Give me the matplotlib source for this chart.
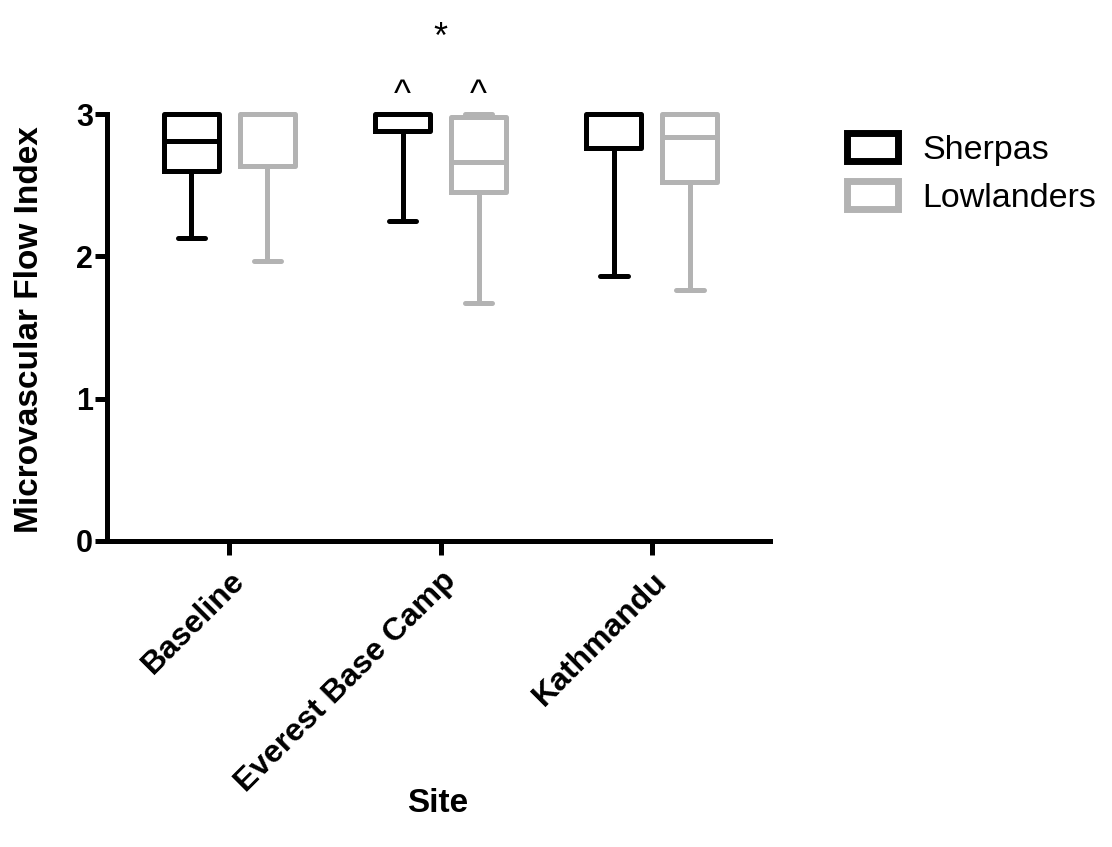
import matplotlib
matplotlib.use("Agg")
import matplotlib.pyplot as plt
from matplotlib.patches import Patch
import numpy as np

plt.rcParams['font.family'] = ['Liberation Sans', 'DejaVu Sans']

# box summaries (q1, median, q3, whisker low/high)
sites = ["Baseline", "Everest Base Camp", "Kathmandu"]
sherpa_q1 = [2.60, 2.88, 2.76]
sherpa_med = [2.81, 3.00, 3.00]
sherpa_q3 = [3.00, 3.00, 3.00]
sherpa_lo = [2.13, 2.25, 1.86]
sherpa_hi = [3.00, 3.00, 3.00]
low_q1 = [2.635, 2.45, 2.52]
low_med = [3.00, 2.66, 2.84]
low_q3 = [3.00, 2.98, 3.00]
low_lo = [1.97, 1.67, 1.76]
low_hi = [3.00, 3.00, 3.00]
groups = ["Sherpas", "Lowlanders"]
colors = ["black", "#b3b3b3"]


def make_stats(q1, med, q3, lo, hi):
    out = []
    for i in range(len(q1)):
        out.append(dict(q1=q1[i], med=med[i], q3=q3[i], whislo=lo[i], whishi=hi[i], fliers=[]))
    return out


fig = plt.figure(figsize=(11.12, 8.47), dpi=100)
ax = fig.add_axes([0.0962, 0.3613, 0.5963, 0.5041])

x = np.arange(len(sites))
offset = 0.18
width = 0.26
lw = 3.6
all_stats = [make_stats(sherpa_q1, sherpa_med, sherpa_q3, sherpa_lo, sherpa_hi),
             make_stats(low_q1, low_med, low_q3, low_lo, low_hi)]
for k, st in enumerate(all_stats):
    c = colors[k]
    pos = x + (-offset if k == 0 else offset)
    ax.bxp(st, positions=pos, widths=width, capwidths=width * 0.5, showfliers=False,
           boxprops=dict(color=c, linewidth=lw),
           medianprops=dict(color=c, linewidth=lw),
           whiskerprops=dict(color=c, linewidth=lw),
           capprops=dict(color=c, linewidth=lw, solid_capstyle='round'),
           manage_ticks=False)

for art in ax.lines:
    art.set_clip_on(False)

ax.set_xlim(-0.58, 2.56)
ax.set_ylim(0, 3)
ax.set_yticks([0, 1, 2, 3])
ax.set_xticks(x)
ax.set_xticklabels(sites, rotation=45, ha='right', rotation_mode='anchor',
                   fontsize=23, fontweight='bold')
ax.tick_params(axis='y', labelsize=22, width=3.6, length=9, pad=1)
for t in ax.get_yticklabels():
    t.set_fontweight('bold')
ax.tick_params(axis='x', width=3.6, length=10, pad=8)
ax.tick_params(axis='both', direction='out')
for s in ['top', 'right']:
    ax.spines[s].set_visible(False)
for s in ['left', 'bottom']:
    ax.spines[s].set_linewidth(3.6)

ax.set_ylabel("Microvascular Flow Index", fontsize=24, fontweight='bold')
ax.set_xlabel("Site", fontsize=24, fontweight='bold')
ax.yaxis.set_label_coords(-0.094, 0.494)
ax.xaxis.set_label_coords(0.498, -0.578)

# significance marks
ax.text(x[1], 3.53, "*", ha='center', va='center', fontsize=26, clip_on=False)
ax.text(x[1] - offset, 3.13, "^", ha='center', va='center', fontsize=26, clip_on=False)
ax.text(x[1] + offset, 3.13, "^", ha='center', va='center', fontsize=26, clip_on=False)

handles = [Patch(facecolor='white', edgecolor=colors[i], linewidth=5, label=groups[i])
           for i in range(2)]
fig.legend(handles=handles, loc='upper left', bbox_to_anchor=(0.762, 0.843), frameon=False,
           fontsize=24.5, handlelength=1.5, handleheight=0.9, labelspacing=0.45,
           handletextpad=0.7, borderpad=0, borderaxespad=0)

fig.savefig("out.png", dpi=100)
